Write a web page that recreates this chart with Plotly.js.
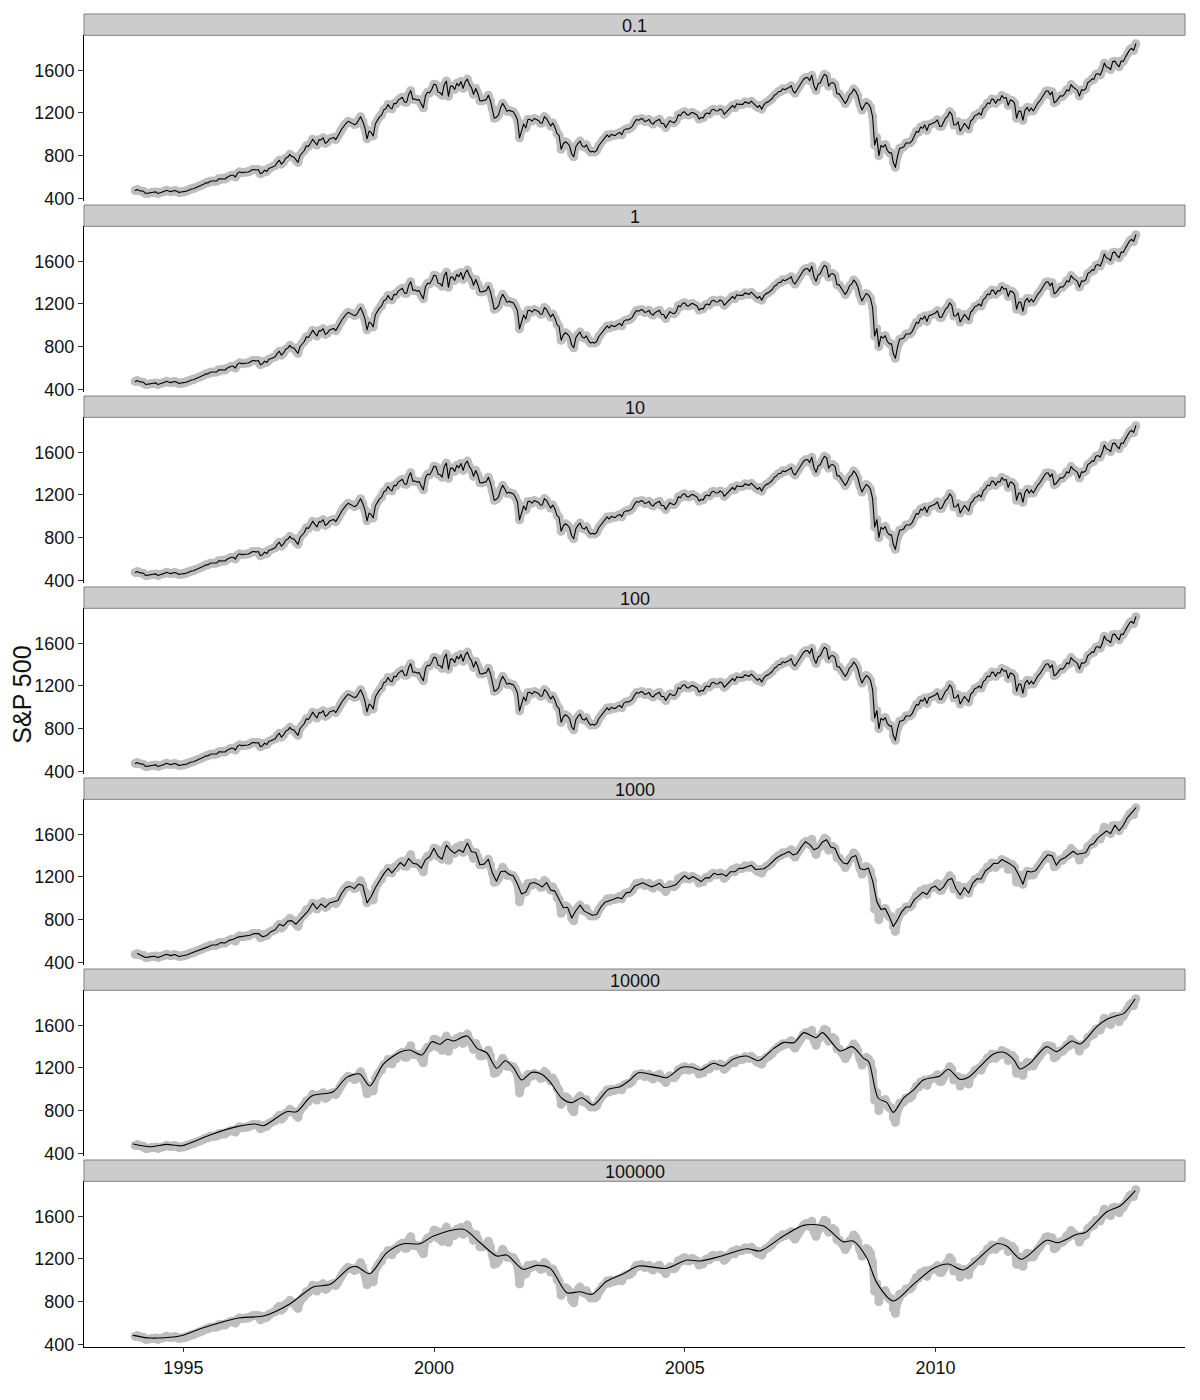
<!DOCTYPE html>
<html>
<head>
<meta charset="utf-8">
<script src="https://cdn.plot.ly/plotly-3.0.1.min.js"></script>
<style>
  html, body { margin: 0; padding: 0; background: #ffffff; }
  #chart { width: 1200px; height: 1400px; }
  .js-line { stroke-linejoin: round; stroke-linecap: round; }
</style>
</head>
<body>
<div id="chart"></div>
<script>
// ---------------- DATA ----------------
const facetLabels = ["0.1", "1", "10", "100", "1000", "10000", "100000"];
const years = [1994,1995,1996,1997,1998,1999,2000,2001,2002,2003,2004,2005,2006,2007,2008,2009,2010,2011,2012,2013];

// S&P 500, mid-month readings (12 per year, 1994..2013)
const spMidMonth = [
  474,472,467,446,455,460,454,465,468,469,466,459,
  465,481,490,509,525,545,560,559,583,587,597,616,
  599,648,641,646,668,666,630,664,681,700,737,720,
  776,812,789,737,829,893,917,927,950,968,928,963,
  950,1020,1080,1122,1108,1098,1165,1063,1030,985,1135,1180,
  1240,1250,1290,1320,1347,1300,1409,1330,1325,1248,1395,1420,
  1465,1390,1464,1356,1452,1478,1495,1492,1466,1374,1383,1313,
  1325,1315,1150,1183,1290,1215,1215,1181,966,1097,1139,1124,
  1138,1104,1166,1111,1106,1007,860,930,890,790,915,890,
  901,834,833,893,946,994,1000,990,1018,1039,1050,1074,
  1139,1146,1120,1140,1096,1132,1101,1064,1128,1108,1184,1204,
  1184,1201,1190,1143,1154,1200,1227,1219,1237,1187,1232,1270,
  1287,1280,1304,1290,1292,1252,1236,1297,1320,1366,1401,1427,
  1430,1456,1387,1453,1514,1533,1553,1412,1484,1562,1451,1485,
  1380,1349,1289,1370,1425,1360,1228,1298,1251,900,800,880,
  850,827,690,869,882,921,940,1027,1068,1088,1091,1103,
  1136,1075,1150,1211,1087,1117,1065,1080,1125,1177,1200,1240,
  1293,1330,1290,1320,1338,1271,1316,1150,1216,1224,1216,1219,
  1289,1343,1404,1370,1295,1342,1357,1418,1466,1428,1359,1413,
  1485,1520,1563,1555,1667,1626,1681,1655,1688,1721,1791,1786
];

// S&P 500, month-end readings (12 per year, 1994..2013)
const spMonthEnd = [
  481.6,467.1,445.8,450.9,456.5,444.3,458.3,475.5,462.7,472.4,453.7,459.3,
  470.4,487.4,500.7,514.7,533.4,544.8,562.1,561.9,584.4,581.5,605.4,615.9,
  636.0,640.4,645.5,654.2,669.1,670.6,640.0,652.0,687.3,705.3,757.0,740.7,
  786.2,790.8,757.1,801.3,848.3,885.1,954.3,899.5,947.3,914.6,955.4,970.4,
  980.3,1049.3,1101.8,1111.8,1090.8,1133.8,1120.7,957.3,1017.0,1098.7,1163.6,1229.2,
  1279.6,1238.3,1286.4,1335.2,1301.8,1372.7,1328.7,1320.4,1282.7,1362.9,1388.9,1469.3,
  1394.5,1366.4,1498.6,1452.4,1420.6,1454.6,1430.8,1517.7,1436.5,1429.4,1315.0,1320.3,
  1366.0,1239.9,1160.3,1249.5,1255.8,1224.4,1211.2,1133.6,1040.9,1059.8,1139.5,1148.1,
  1130.2,1106.7,1147.4,1076.9,1067.1,989.8,911.6,916.1,815.3,885.8,936.3,879.8,
  855.7,841.2,848.2,916.9,963.6,974.5,990.3,1008.0,996.0,1050.7,1058.2,1111.9,
  1131.1,1144.9,1126.2,1107.3,1120.7,1140.8,1101.7,1104.2,1114.6,1130.2,1173.8,1211.9,
  1181.3,1203.6,1180.6,1156.9,1191.5,1191.3,1234.2,1220.3,1228.8,1207.0,1249.5,1248.3,
  1280.1,1280.7,1294.8,1310.6,1270.1,1270.2,1276.7,1303.8,1335.9,1377.9,1400.6,1418.3,
  1438.2,1406.8,1420.9,1482.4,1530.6,1503.4,1455.3,1474.0,1526.8,1549.4,1481.1,1468.4,
  1378.6,1330.6,1322.7,1385.6,1400.4,1280.0,1267.4,1282.8,1166.4,968.8,896.2,903.3,
  825.9,735.1,797.9,872.8,919.1,919.3,987.5,1020.6,1057.1,1036.2,1095.6,1115.1,
  1073.9,1104.5,1169.4,1186.7,1089.4,1030.7,1101.6,1049.3,1141.2,1183.3,1180.6,1257.6,
  1286.1,1327.2,1325.8,1363.6,1345.2,1320.6,1292.3,1218.9,1131.4,1253.3,1247.0,1257.6,
  1312.4,1365.7,1408.5,1397.9,1310.3,1362.2,1379.3,1406.6,1440.7,1412.2,1416.2,1426.2,
  1498.1,1514.7,1569.2,1597.6,1630.7,1606.3,1685.7,1633.0,1681.6,1756.5,1805.8,1848.4
];

// smoothed curve, lambda = 10000 (decimal year, value)
const smooth10000Time = [1994.00,1994.34,1994.67,1994.97,1995.53,1996.07,1996.43,1996.60,1997.06,1997.26,1997.56,1997.99,1998.26,1998.52,1998.72,1998.99,1999.32,1999.52,1999.76,1999.96,2000.12,2000.26,2000.39,2000.66,2000.86,2001.05,2001.25,2001.42,2001.58,2001.75,2001.95,2002.15,2002.31,2002.55,2002.75,2002.95,2003.18,2003.48,2003.71,2003.91,2004.08,2004.44,2004.64,2004.94,2005.14,2005.31,2005.57,2005.77,2005.97,2006.24,2006.47,2006.78,2006.98,2007.18,2007.38,2007.62,2007.75,2008.10,2008.34,2008.57,2008.67,2008.86,2009.03,2009.16,2009.36,2009.56,2009.76,2010.09,2010.26,2010.49,2010.66,2010.89,2011.16,2011.36,2011.56,2011.69,2011.89,2012.22,2012.42,2012.72,2012.89,2013.22,2013.42,2013.59,2013.76,2013.98];
const smooth10000Value = [487,462,484,471,572,650,675,659,790,790,937,978,1112,1143,1031,1237,1347,1368,1322,1446,1422,1469,1453,1500,1384,1343,1197,1268,1206,1087,1159,1141,1071,916,875,921,853,1000,1024,1087,1156,1128,1109,1206,1206,1181,1244,1218,1284,1312,1268,1384,1440,1437,1531,1484,1531,1359,1400,1290,1258,916,878,784,916,993,1087,1125,1188,1094,1112,1212,1331,1347,1281,1190,1244,1400,1353,1453,1425,1587,1656,1687,1712,1844];

// smoothed curve, lambda = 100000 (decimal year, value)
const smooth100000Time = [1994.00,1994.34,1994.93,1995.40,1996.13,1996.60,1997.13,1997.59,1997.93,1998.32,1998.46,1998.72,1999.06,1999.39,1999.72,1999.99,2000.59,2000.92,2001.25,2001.45,2001.78,2002.05,2002.32,2002.65,2002.91,2003.15,2003.45,2003.78,2004.08,2004.64,2005.04,2005.31,2005.71,2006.24,2006.50,2006.97,2007.37,2007.77,2008.16,2008.36,2008.63,2008.83,2009.16,2009.56,2009.96,2010.26,2010.56,2011.22,2011.42,2011.72,2012.22,2012.45,2012.82,2012.99,2013.42,2013.68,2013.98];
const smooth100000Value = [484,459,478,556,649,665,781,937,962,1118,1128,1062,1259,1343,1343,1415,1478,1352,1228,1237,1103,1140,1112,884,893,869,993,1062,1134,1112,1190,1181,1225,1296,1275,1415,1515,1509,1362,1368,1212,978,806,962,1112,1153,1097,1343,1321,1197,1375,1353,1431,1447,1643,1697,1837];

const yTickVals = [400, 800, 1200, 1600];
const xTickVals = ["1995-01-01", "2000-01-01", "2005-01-01", "2010-01-01"];
const xTickText = ["1995", "2000", "2005", "2010"];
const yTitle = "S&P 500";

// ---------------- HELPERS ----------------
function pad(n) { return (n < 10 ? "0" : "") + n; }
function lastDay(y, m) { return new Date(Date.UTC(y, m, 0)).getUTCDate(); }
const midDates = [], endDates = [];
years.forEach(y => {
  for (let m = 1; m <= 12; m++) {
    midDates.push(y + "-" + pad(m) + "-15");
    endDates.push(y + "-" + pad(m) + "-" + pad(lastDay(y, m)));
  }
});
// interleave both readings in time order
const rawDates = [], rawValues = [];
for (let i = 0; i < spMidMonth.length; i++) {
  rawDates.push(midDates[i]); rawValues.push(spMidMonth[i]);
  rawDates.push(endDates[i]); rawValues.push(spMonthEnd[i]);
}
function decToDate(t) {
  const y = Math.floor(t);
  const start = Date.UTC(y, 0, 1), end = Date.UTC(y + 1, 0, 1);
  const d = new Date(start + (t - y) * (end - start));
  return d.toISOString().slice(0, 10);
}

// ---------------- LAYOUT GEOMETRY (px) ----------------
const W = 1200, H = 1400;
const xL = 84, xR = 1185;
const top0 = 14, facetStep = 191, stripH = 21.3, plotH = 166;

const traces = [];
const layout = {
  width: W, height: H,
  margin: { l: 0, r: 0, t: 0, b: 0 },
  paper_bgcolor: "#ffffff", plot_bgcolor: "#ffffff",
  showlegend: false,
  font: { family: "Liberation Sans, Arial, sans-serif", size: 18, color: "#111111" },
  shapes: [], annotations: []
};

facetLabels.forEach((lab, i) => {
  const k = i + 1;
  const stripTop = top0 + facetStep * i;
  const pTop = stripTop + stripH;
  const pBot = pTop + plotH;
  const xa = "xaxis" + (k === 1 ? "" : k), ya = "yaxis" + (k === 1 ? "" : k);
  const xr = "x" + (k === 1 ? "" : k), yr = "y" + (k === 1 ? "" : k);
  const last = (i === facetLabels.length - 1);

  layout[xa] = {
    type: "date", range: ["1993-01-07", "2014-12-24"],
    domain: [xL / W, xR / W], anchor: yr,
    showgrid: false, zeroline: false,
    showline: last, linecolor: "#000000", linewidth: 1,
    ticks: last ? "outside" : "", ticklen: 4, tickcolor: "#333333",
    showticklabels: last,
    tickmode: "array", tickvals: xTickVals, ticktext: xTickText,
    tickfont: { size: 18, color: "#111111" }
  };
  layout[ya] = {
    range: [372, 1928],
    domain: [1 - pBot / H, 1 - pTop / H], anchor: xr,
    showgrid: false, zeroline: false,
    showline: true, linecolor: "#000000", linewidth: 1,
    ticks: "outside", ticklen: 5, tickcolor: "#333333",
    tickmode: "array", tickvals: yTickVals,
    tickfont: { size: 18, color: "#111111" }
  };

  // strip
  layout.shapes.push({
    type: "rect", xref: "paper", yref: "paper",
    x0: xL / W, x1: xR / W, y0: 1 - (stripTop + stripH) / H, y1: 1 - stripTop / H,
    fillcolor: "#cccccc", line: { color: "#808080", width: 1 }
  });
  layout.annotations.push({
    xref: "paper", yref: "paper", x: (xL + xR) / 2 / W, y: 1 - (stripTop + 12.3) / H,
    text: lab, showarrow: false, xanchor: "center", yanchor: "middle",
    font: { size: 18, color: "#111111" }
  });

  // gray raw data
  traces.push({
    x: rawDates, y: rawValues, xaxis: xr, yaxis: yr,
    type: "scatter", mode: "lines+markers",
    line: { color: "#bebebe", width: 8 },
    marker: { color: "#bebebe", size: 9, line: { width: 0 } },
    hoverinfo: "skip"
  });

  // black fitted curve
  let bx, by, shape = "linear";
  if (lab === "1000") { bx = endDates; by = spMonthEnd; }
  else if (lab === "10000") { bx = smooth10000Time.map(decToDate); by = smooth10000Value; shape = "spline"; }
  else if (lab === "100000") { bx = smooth100000Time.map(decToDate); by = smooth100000Value; shape = "spline"; }
  else { bx = rawDates; by = rawValues; }
  traces.push({
    x: bx, y: by, xaxis: xr, yaxis: yr,
    type: "scatter", mode: "lines",
    line: { color: "#000000", width: 1.1, shape: shape, smoothing: 0.8 },
    hoverinfo: "skip"
  });
});

layout.annotations.push({
  xref: "paper", yref: "paper", x: 21.7 / W, y: 1 - 695 / H,
  text: yTitle, showarrow: false, textangle: -90,
  xanchor: "center", yanchor: "middle",
  font: { size: 25, color: "#111111" }
});

Plotly.newPlot("chart", traces, layout, { displayModeBar: false, staticPlot: true });
</script>
</body>
</html>
